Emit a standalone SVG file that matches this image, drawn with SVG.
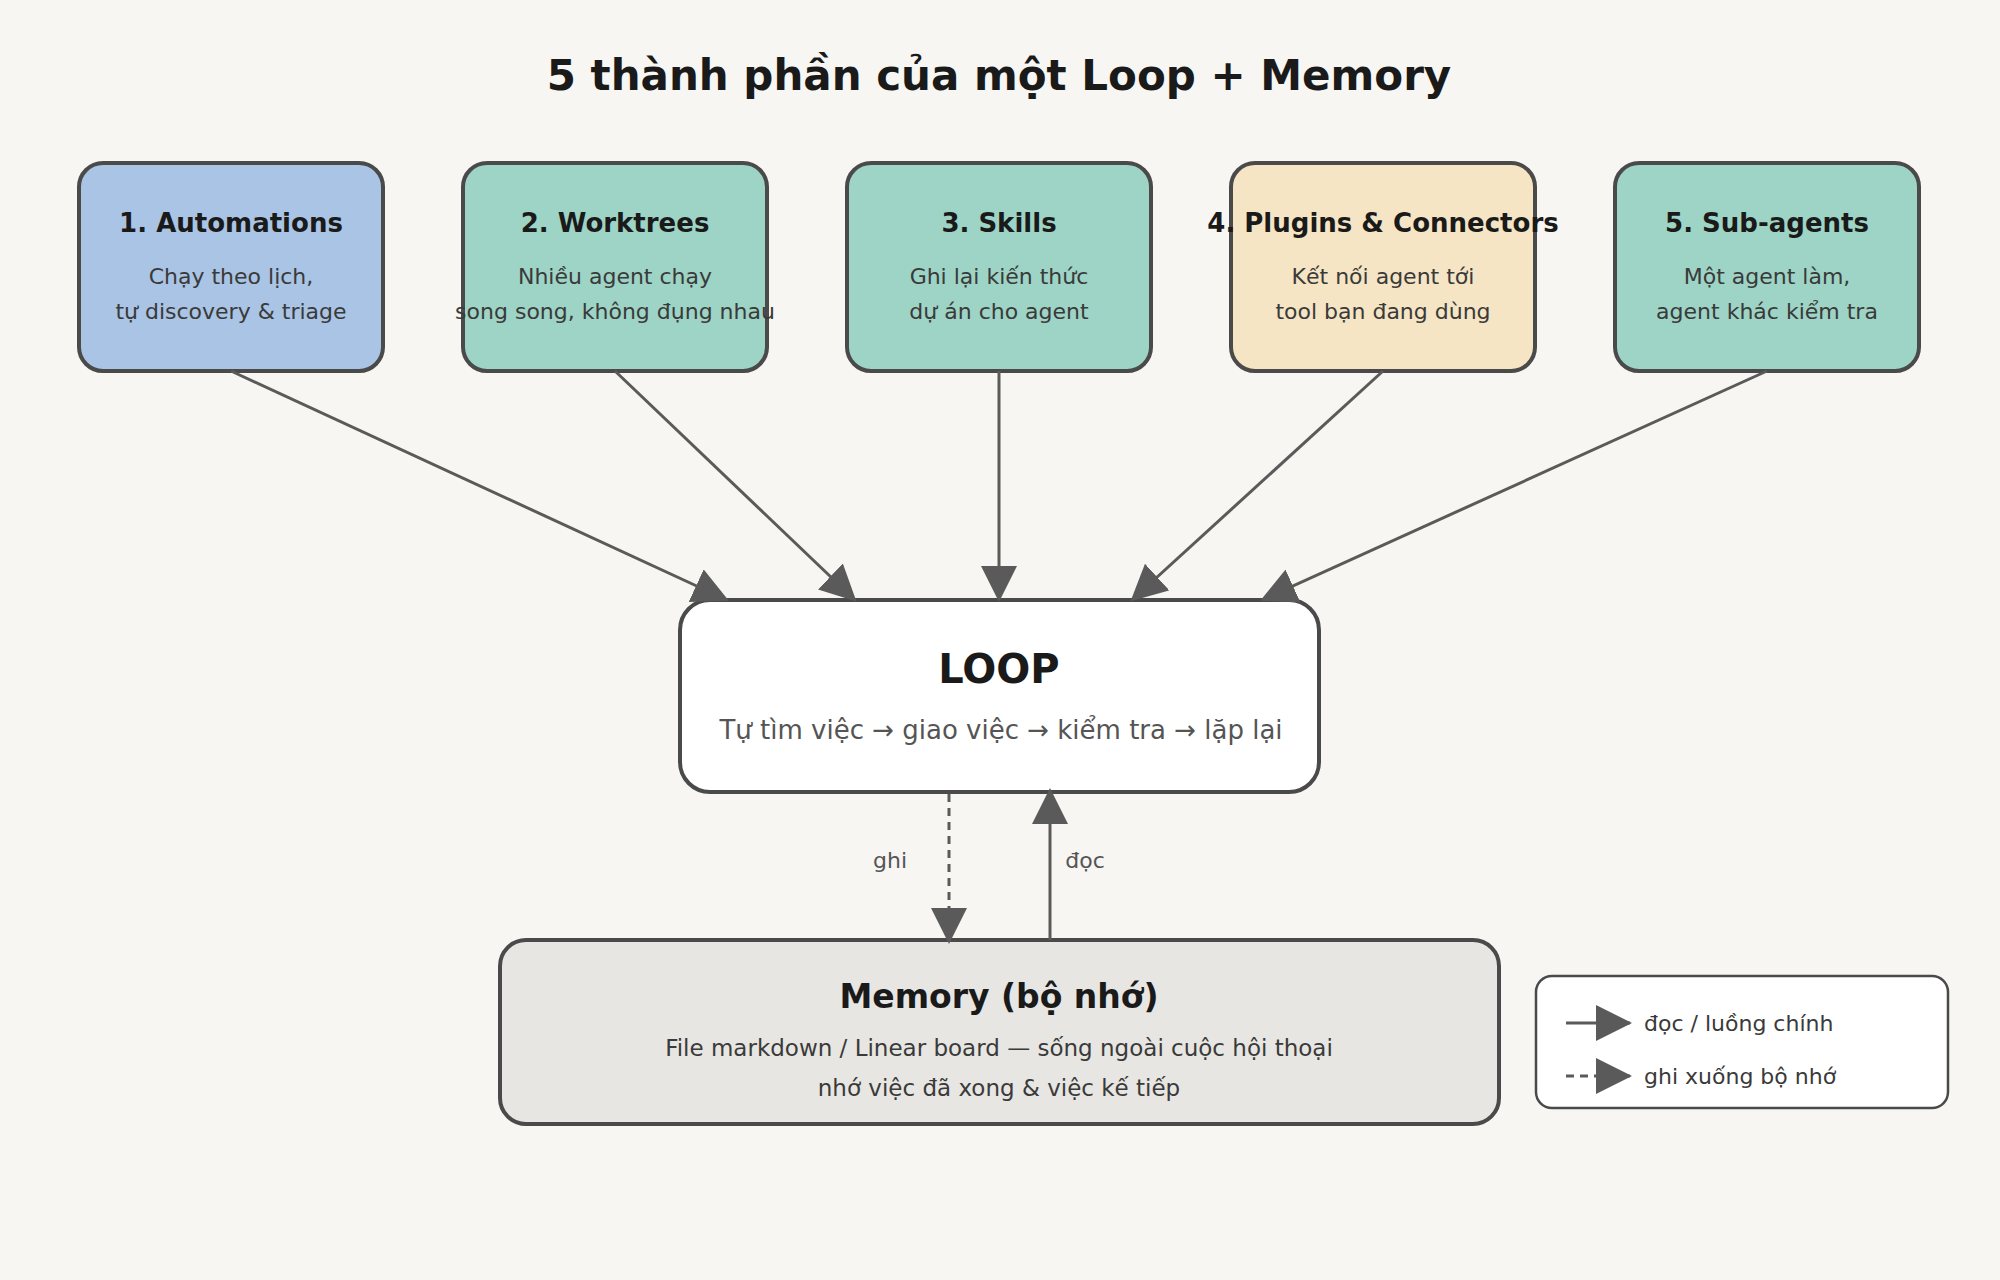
<svg xmlns="http://www.w3.org/2000/svg" width="2000" height="1280" viewBox="0 0 2000 1280">
<style>
text{font-family:"DejaVu Sans",sans-serif;text-anchor:middle}
.t{font-weight:bold;font-size:26px;fill:#1a1a1a}
.d{font-size:22px;fill:#3a3a3a}
.box{stroke:#4a4a4a;stroke-width:4}
.c{stroke:#5a5a5a;stroke-width:3;fill:none}
</style>
<defs>
<marker id="a" markerUnits="userSpaceOnUse" markerWidth="36" markerHeight="36" viewBox="0 0 36 36" refX="34" refY="18" orient="auto">
<path d="M0,0 L36,18 L0,36 Z" fill="#5a5a5a"/>
</marker>
</defs>
<rect width="2000" height="1280" fill="#f7f6f2"/>
<text x="999" y="90" style="font-size:42px;font-weight:bold;fill:#1a1a1a">5 thành phần của một Loop + Memory</text>
<g id="n1"><rect class="box" x="79" y="163" width="304" height="208" rx="24" fill="#a9c4e4"/><text class="t" x="231" y="232">1. Automations</text><text class="d" x="231" y="284">Chạy theo lịch,</text><text class="d" x="231" y="319">tự discovery &amp; triage</text></g>
<g id="n2"><rect class="box" x="463" y="163" width="304" height="208" rx="24" fill="#9dd4c6"/><text class="t" x="615" y="232">2. Worktrees</text><text class="d" x="615" y="284">Nhiều agent chạy</text><text class="d" x="615" y="319">song song, không đụng nhau</text></g>
<g id="n3"><rect class="box" x="847" y="163" width="304" height="208" rx="24" fill="#9dd4c6"/><text class="t" x="999" y="232">3. Skills</text><text class="d" x="999" y="284">Ghi lại kiến thức</text><text class="d" x="999" y="319">dự án cho agent</text></g>
<g id="n4"><rect class="box" x="1231" y="163" width="304" height="208" rx="24" fill="#f5e5c4"/><text class="t" x="1383" y="232">4. Plugins &amp; Connectors</text><text class="d" x="1383" y="284">Kết nối agent tới</text><text class="d" x="1383" y="319">tool bạn đang dùng</text></g>
<g id="n5"><rect class="box" x="1615" y="163" width="304" height="208" rx="24" fill="#9dd4c6"/><text class="t" x="1767" y="232">5. Sub-agents</text><text class="d" x="1767" y="284">Một agent làm,</text><text class="d" x="1767" y="319">agent khác kiểm tra</text></g>
<g id="loop"><rect class="box" x="680" y="600" width="639" height="192" rx="30" fill="#ffffff"/><text x="999" y="683" style="font-size:40px;font-weight:bold;fill:#1a1a1a">LOOP</text><text x="1001" y="739" style="font-size:26px;fill:#555">Tự tìm việc → giao việc → kiểm tra → lặp lại</text></g>
<g id="memory"><rect class="box" x="500" y="940" width="999" height="184" rx="26" fill="#e7e6e2"/><text x="999" y="1008" style="font-size:33px;font-weight:bold;fill:#1a1a1a">Memory (bộ nhớ)</text><text class="d" x="999" y="1056" style="font-size:23px">File markdown / Linear board — sống ngoài cuộc hội thoại</text><text class="d" x="999" y="1096" style="font-size:23px">nhớ việc đã xong &amp; việc kế tiếp</text></g>
<g id="connectors">
<line class="c" x1="231" y1="371" x2="727" y2="600" marker-end="url(#a)"/>
<line class="c" x1="615" y1="371" x2="855" y2="600" marker-end="url(#a)"/>
<line class="c" x1="999" y1="371" x2="999" y2="600" marker-end="url(#a)"/>
<line class="c" x1="1383" y1="371" x2="1132" y2="600" marker-end="url(#a)"/>
<line class="c" x1="1767" y1="371" x2="1262" y2="600" marker-end="url(#a)"/>
<line class="c" x1="949" y1="794" x2="949" y2="942" stroke-dasharray="8,6" marker-end="url(#a)"/>
<line class="c" x1="1050" y1="940" x2="1050" y2="790" marker-end="url(#a)"/>
<text x="890" y="868" style="font-size:22px;fill:#555">ghi</text>
<text x="1085" y="868" style="font-size:22px;fill:#555">đọc</text>
</g>
<g id="legend"><rect x="1536" y="976" width="412" height="132" rx="16" fill="#fff" stroke="#4a4a4a" stroke-width="2.5"/>
<line class="c" x1="1566" y1="1023" x2="1630" y2="1023" marker-end="url(#a)"/>
<line class="c" x1="1566" y1="1076" x2="1630" y2="1076" stroke-dasharray="8,6" marker-end="url(#a)"/>
<text x="1644" y="1031" style="font-size:22px;fill:#3a3a3a;text-anchor:start">đọc / luồng chính</text>
<text x="1644" y="1084" style="font-size:22px;fill:#3a3a3a;text-anchor:start">ghi xuống bộ nhớ</text></g>
</svg>
